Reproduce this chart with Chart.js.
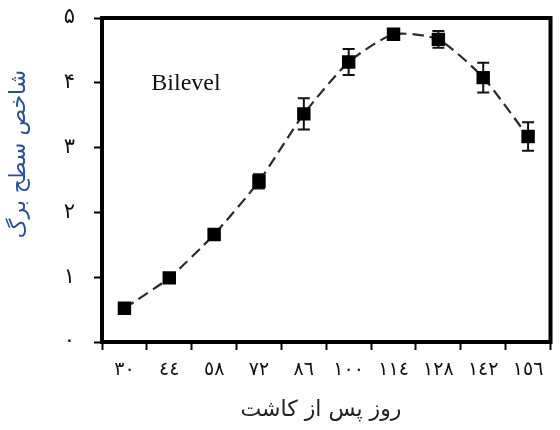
<!DOCTYPE html>
<html>
<head>
<meta charset="utf-8">
<script src="https://cdn.jsdelivr.net/npm/chart.js@4.4.1/dist/chart.umd.min.js"></script>
<style>
  body { margin: 0; background: #fff; }
  #wrap { width: 560px; height: 430px; }
</style>
</head>
<body>
<div id="wrap"><canvas id="myChart" width="560" height="430"></canvas></div>
<script>
const ctx = document.getElementById('myChart').getContext('2d');

// days after planting (Arabic-Indic digits as in the figure)
const days = ['٣٠', '٤٤', '٥٨', '٧٢', '٨٦', '١٠٠', '١١٤', '١٢٨', '١٤٢', '١٥٦'];
// leaf area index
const lai = [0.52, 0.99, 1.66, 2.48, 3.52, 4.32, 4.75, 4.67, 4.08, 3.17];
const laiErr = [0, 0, 0, 0.11, 0.24, 0.2, 0.04, 0.13, 0.23, 0.22];
const yTickLabels = ['۰', '۱', '۲', '۳', '۴', '۵'];

const xTitle = 'روز پس از کاشت';
const yTitle = 'شاخص سطح برگ';
const seriesLabel = 'Bilevel';

const arabicFont = "'DejaVu Sans', sans-serif";

const errorBars = {
  id: 'errorBars',
  beforeDatasetsDraw(chart) {
    const meta = chart.getDatasetMeta(0);
    const y = chart.scales.y;
    const c = chart.ctx;
    c.save();
    c.strokeStyle = '#111';
    c.lineWidth = 2;
    meta.data.forEach((pt, i) => {
      const e = laiErr[i];
      if (!e) return;
      const top = y.getPixelForValue(lai[i] + e);
      const bot = y.getPixelForValue(lai[i] - e);
      c.beginPath();
      c.moveTo(pt.x, top);
      c.lineTo(pt.x, bot);
      c.moveTo(pt.x - 6, top);
      c.lineTo(pt.x + 6, top);
      c.moveTo(pt.x - 6, bot);
      c.lineTo(pt.x + 6, bot);
      c.stroke();
    });
    c.restore();
  }
};

const frameAndText = {
  id: 'frameAndText',
  afterDraw(chart) {
    const { left, right, top, bottom } = chart.chartArea;
    const c = chart.ctx;
    c.save();
    c.strokeStyle = '#000';
    c.lineWidth = 4;
    c.strokeRect(left, top, right - left, bottom - top);

    c.fillStyle = '#111';
    c.font = "24px 'Liberation Serif', serif";
    c.textAlign = 'center';
    c.textBaseline = 'middle';
    c.fillText(seriesLabel, 186, 84);

    c.fillStyle = '#222';
    c.font = '22px ' + arabicFont;
    c.fillText(xTitle, 321, 410);

    c.translate(19, 154);
    c.rotate(-Math.PI / 2);
    c.fillStyle = '#2d4f9a';
    c.fillText(yTitle, 0, 0);
    c.restore();
  }
};

const myChart = new Chart(ctx, {
  type: 'line',
  data: {
    labels: days,
    datasets: [{
      label: seriesLabel,
      data: lai,
      borderColor: '#2a2a2a',
      borderWidth: 2.2,
      borderDash: [11, 6],
      tension: 0.2,
      pointStyle: 'rect',
      pointRadius: 9.5,
      pointBackgroundColor: '#000',
      pointBorderColor: '#000',
      pointBorderWidth: 0
    }]
  },
  options: {
    responsive: false,
    animation: false,
    layout: { padding: { top: 18, right: 3, left: 0, bottom: 0 } },
    plugins: {
      legend: { display: false },
      tooltip: { enabled: false }
    },
    scales: {
      x: {
        offset: true,
        grid: {
          offset: true,
          drawOnChartArea: false,
          drawTicks: true,
          tickLength: 8,
          tickWidth: 2,
          tickColor: '#000'
        },
        border: { display: false },
        ticks: {
          color: '#111',
          padding: 9,
          maxRotation: 0,
          font: { family: arabicFont, size: 19 }
        },
        afterFit(scale) {
          scale.height = 88;
          scale.paddingLeft = 0;
          scale.paddingRight = 0;
        }
      },
      y: {
        min: 0,
        max: 5,
        grid: {
          drawOnChartArea: false,
          drawTicks: true,
          tickLength: 8,
          tickWidth: 2,
          tickColor: '#000'
        },
        border: { display: false },
        ticks: {
          stepSize: 1,
          color: '#111',
          padding: 19,
          font: { family: arabicFont, size: 21 },
          callback: (v) => yTickLabels[v]
        },
        afterFit(scale) {
          scale.width = 102;
          scale.paddingTop = 0;
          scale.paddingBottom = 0;
        }
      }
    }
  },
  plugins: [errorBars, frameAndText]
});
</script>
</body>
</html>
